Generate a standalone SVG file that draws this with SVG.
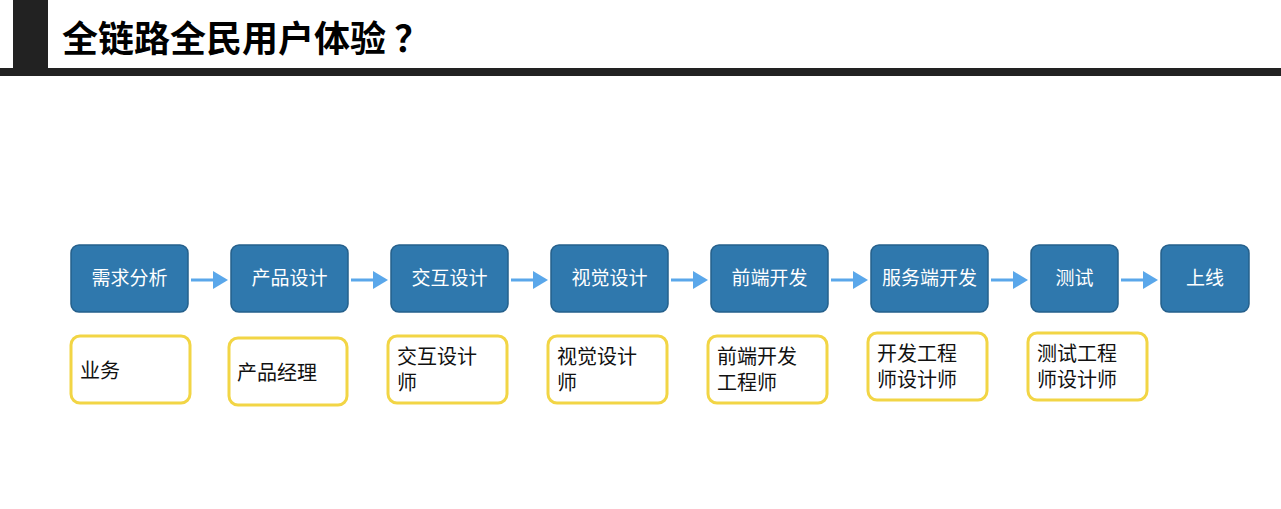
<svg xmlns="http://www.w3.org/2000/svg" width="1281" height="509" viewBox="0 0 1281 509">
<style>
.b{fill:#2f78ad;stroke:#25608c;stroke-width:1.5}
.y{fill:#fff;stroke:#f2d545;stroke-width:3}
.bt{font-family:"Noto Sans CJK SC",sans-serif;font-size:19px;fill:#fff;text-anchor:middle}
.yt{font-family:"Noto Sans CJK SC",sans-serif;font-size:20px;fill:#111}
.c{stroke:#5aa7ea;stroke-width:3;fill:none}
</style>
<defs><marker id="a" markerWidth="5" markerHeight="6" refX="4" refY="3" orient="auto"><path d="M0,0L5,3L0,6z" fill="#5aa7ea"/></marker></defs>
<rect x="13" y="0" width="35" height="75" fill="#222"/>
<rect x="0" y="68" width="1281" height="8" fill="#222"/>
<text x="62" y="52" font-family="'Noto Sans CJK SC',sans-serif" font-weight="bold" font-size="36" fill="#000">全链路全民用户体验 ？</text>
<g id="connectors">
<path class="c" marker-end="url(#a)" d="M191 280H225"/>
<path class="c" marker-end="url(#a)" d="M351 280H385"/>
<path class="c" marker-end="url(#a)" d="M511 280H545"/>
<path class="c" marker-end="url(#a)" d="M671 280H705"/>
<path class="c" marker-end="url(#a)" d="M831 280H865"/>
<path class="c" marker-end="url(#a)" d="M991 280H1025"/>
<path class="c" marker-end="url(#a)" d="M1121 280H1155"/>
</g>
<g id="n1"><rect class="b" x="71" y="245" width="117" height="67" rx="8"/><text class="bt" x="129.5" y="285">需求分析</text></g>
<g id="n2"><rect class="b" x="231" y="245" width="117" height="67" rx="8"/><text class="bt" x="289.5" y="285">产品设计</text></g>
<g id="n3"><rect class="b" x="391" y="245" width="117" height="67" rx="8"/><text class="bt" x="449.5" y="285">交互设计</text></g>
<g id="n4"><rect class="b" x="551" y="245" width="117" height="67" rx="8"/><text class="bt" x="609.5" y="285">视觉设计</text></g>
<g id="n5"><rect class="b" x="711" y="245" width="117" height="67" rx="8"/><text class="bt" x="769.5" y="285">前端开发</text></g>
<g id="n6"><rect class="b" x="871" y="245" width="117" height="67" rx="8"/><text class="bt" x="929.5" y="285">服务端开发</text></g>
<g id="n7"><rect class="b" x="1031" y="245" width="87" height="67" rx="8"/><text class="bt" x="1074.5" y="285">测试</text></g>
<g id="n8"><rect class="b" x="1161" y="245" width="88" height="67" rx="8"/><text class="bt" x="1205" y="285">上线</text></g>
<g id="r1"><rect class="y" x="71" y="336" width="119" height="67" rx="9"/><text class="yt" x="80" y="378">业务</text></g>
<g id="r2"><rect class="y" x="229" y="338" width="118" height="67" rx="9"/><text class="yt" x="237" y="380">产品经理</text></g>
<g id="r3"><rect class="y" x="388" y="336" width="119" height="67" rx="9"/><text class="yt" x="397" y="364">交互设计</text><text class="yt" x="397" y="390">师</text></g>
<g id="r4"><rect class="y" x="548" y="336" width="119" height="67" rx="9"/><text class="yt" x="557" y="364">视觉设计</text><text class="yt" x="557" y="390">师</text></g>
<g id="r5"><rect class="y" x="708" y="336" width="119" height="67" rx="9"/><text class="yt" x="717" y="364">前端开发</text><text class="yt" x="717" y="390">工程师</text></g>
<g id="r6"><rect class="y" x="868" y="333" width="119" height="67" rx="9"/><text class="yt" x="877" y="361">开发工程</text><text class="yt" x="877" y="387">师设计师</text></g>
<g id="r7"><rect class="y" x="1028" y="333" width="119" height="67" rx="9"/><text class="yt" x="1037" y="361">测试工程</text><text class="yt" x="1037" y="387">师设计师</text></g>
</svg>
